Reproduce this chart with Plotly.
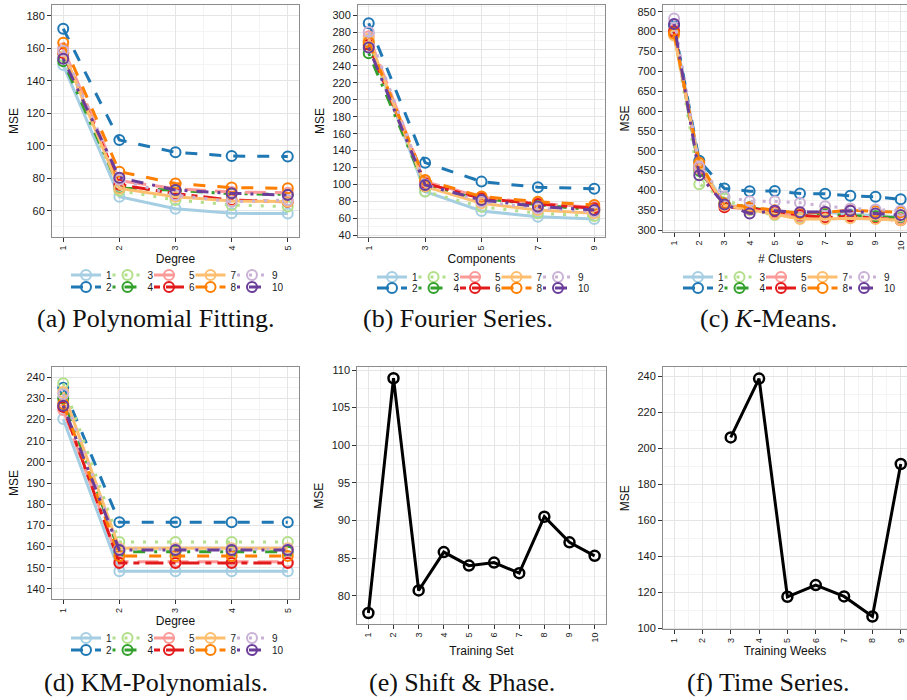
import plotly.graph_objects as go

# ---------------- data ----------------
series_labels = ["1", "2", "3", "4", "5", "6", "7", "8", "9", "10"]

degree = [1, 2, 3, 4, 5]
poly_mse = [
    [149.6, 68.6, 61.2, 58.4, 58.2],
    [172.0, 103.5, 95.9, 93.6, 93.4],
    [155.0, 72.3, 66.6, 63.5, 62.5],
    [152.0, 74.0, 72.5, 70.5, 70.0],
    [160.0, 78.5, 73.5, 71.5, 71.0],
    [157.0, 76.0, 70.5, 66.5, 65.5],
    [158.0, 73.7, 68.6, 66.0, 65.7],
    [163.4, 84.0, 76.8, 74.2, 73.8],
    [158.5, 79.0, 69.6, 65.5, 66.6],
    [153.5, 80.3, 72.7, 70.7, 69.6],
]

components = [1, 3, 5, 7, 9]
fourier_mse = [
    [270.0, 91.6, 68.7, 62.0, 59.3],
    [290.5, 125.8, 103.4, 96.7, 95.1],
    [268.0, 91.6, 73.8, 66.0, 62.8],
    [255.0, 97.5, 83.7, 76.0, 70.0],
    [275.0, 103.4, 85.0, 77.8, 73.0],
    [265.0, 101.4, 83.7, 77.0, 71.9],
    [272.0, 97.5, 77.8, 70.0, 66.0],
    [268.0, 105.4, 85.7, 79.7, 75.8],
    [280.0, 100.0, 80.0, 72.0, 68.0],
    [261.8, 99.4, 81.7, 74.0, 70.0],
]

clusters = [1, 2, 3, 4, 5, 6, 7, 8, 9, 10]
kmeans_mse = [
    [810, 470, 365, 355, 345, 340, 345, 340, 337, 333],
    [815, 474.7, 405, 398.3, 399, 392.4, 391.6, 386.5, 384, 378],
    [800, 416, 380, 350, 338, 330, 340, 338, 335, 335],
    [800, 450, 368, 358, 345, 335, 340, 336, 335, 330],
    [805, 455, 362, 356, 345, 335, 333, 332, 330, 328],
    [800, 460, 358, 355, 348, 338, 332, 335, 330, 325],
    [790, 465, 362, 352, 340, 328, 328, 330, 328, 325],
    [795, 470, 367, 358, 350, 343, 345, 350, 348, 345],
    [833, 460, 385, 373, 373, 369, 360.5, 354.6, 352, 349],
    [819, 438.6, 365, 342, 349, 345.4, 346, 349, 342, 338],
]

km_degree = [1, 2, 3, 4, 5]
kmpoly_mse = [
    [220.3, 148.3, 148.3, 148.3, 148.3],
    [235.0, 171.5, 171.5, 171.5, 171.5],
    [237.2, 162.2, 162.2, 162.2, 162.2],
    [230.0, 157.6, 157.6, 157.6, 157.6],
    [224.5, 152.8, 152.8, 152.8, 152.8],
    [226.0, 152.2, 152.2, 152.2, 152.2],
    [233.0, 159.2, 159.2, 159.2, 159.2],
    [227.5, 155.6, 155.6, 155.6, 155.6],
    [232.0, 158.7, 158.7, 158.7, 158.7],
    [226.6, 158.4, 158.4, 158.4, 158.4],
]

training_set = [1, 2, 3, 4, 5, 6, 7, 8, 9, 10]
shift_mse = [77.7, 108.9, 80.7, 85.8, 84.0, 84.4, 83.0, 90.5, 87.1, 85.3]

training_weeks = [3, 4, 5, 6, 7, 8, 9]
time_mse = [206.2, 238.9, 117.5, 124.0, 117.7, 106.5, 191.4]

# ---------------- style ----------------
colors = ["#A6CEE3", "#1F78B4", "#B2DF8A", "#33A02C", "#FB9A99",
          "#E31A1C", "#FDBF6F", "#FF7F00", "#CAB2D6", "#6A3D9A"]
dash_cycle = ["solid", "12px,12px", "3px,9px", "3px,9px,12px,9px",
              "21px,9px", "6px,6px,18px,6px"]

W, H = 907, 700
FONT = "Liberation Sans"


def px_x(a, b):
    return [a / W, b / W]


def px_y(top, bottom):
    return [1 - bottom / H, 1 - top / H]


fig = go.Figure()
layout = dict(
    width=W, height=H, margin=dict(l=0, r=0, t=0, b=0),
    paper_bgcolor="white", plot_bgcolor="white",
    font=dict(family=FONT),
)

# legend anchor per panel: (origin x of first entry, row1 y, row2 y) in pixels
legend_geom = {
    1: (66, 275, 287),
    2: (372, 277, 288),
    3: (678, 277, 288),
    4: (66, 638, 650),
}
ENTRY_STEP = 41.5

multi_panels = [
    (degree, poly_mse, 1),
    (components, fourier_mse, 2),
    (clusters, kmeans_mse, 3),
    (km_degree, kmpoly_mse, 4),
]

leg_count = 0
for xs, data, ax in multi_panels:
    ox, ry1, ry2 = legend_geom[ax]
    for i, ys in enumerate(data):
        leg_count += 1
        key = "legend" if leg_count == 1 else f"legend{leg_count}"
        col = i // 2
        ry = ry1 if i % 2 == 0 else ry2
        layout[key] = dict(
            orientation="h", x=(ox + col * ENTRY_STEP) / W, y=1 - ry / H,
            xanchor="left", yanchor="middle", itemwidth=30,
            font=dict(family=FONT, size=10, color="#1a1a1a"),
            bgcolor="rgba(0,0,0,0)", borderwidth=0,
        )
        fig.add_trace(go.Scatter(
            x=xs, y=ys, mode="lines+markers", name=series_labels[i],
            xaxis="x" if ax == 1 else f"x{ax}",
            yaxis="y" if ax == 1 else f"y{ax}",
            legend=key,
            line=dict(color=colors[i], width=3, dash=dash_cycle[i % 6]),
            marker=dict(symbol="circle-open", size=10, color=colors[i],
                        line=dict(width=2, color=colors[i])),
        ))

for xs, ys, ax in [(training_set, shift_mse, 5), (training_weeks, time_mse, 6)]:
    fig.add_trace(go.Scatter(
        x=xs, y=ys, mode="lines+markers", showlegend=False,
        xaxis=f"x{ax}", yaxis=f"y{ax}",
        line=dict(color="black", width=3),
        marker=dict(symbol="circle-open", size=10, color="black",
                    line=dict(width=2.5, color="black")),
    ))


def xaxis(domain, rng, tickvals, minor_tick0, minor_dtick, title, anchor, mirror=True):
    return dict(
        domain=domain, range=rng, anchor=anchor,
        tickmode="array", tickvals=tickvals, ticktext=[str(v) for v in tickvals],
        tickangle=-90, ticks="outside", ticklen=4, tickcolor="#333",
        tickfont=dict(family=FONT, size=9, color="#1a1a1a"),
        showgrid=True, gridcolor="#E5E5E5", gridwidth=1,
        minor=dict(tick0=minor_tick0, dtick=minor_dtick, showgrid=True,
                   gridcolor="#F4F4F4", gridwidth=1, ticks=""),
        zeroline=False, showline=True, linecolor="#8C8C8C", linewidth=1,
        mirror=mirror,
        title=dict(text=title, font=dict(family=FONT, size=12, color="#111"), standoff=4),
        automargin=False,
    )


def yaxis(domain, rng, dtick, tick0, minor_dtick, anchor, fsize=11, mirror=True):
    return dict(
        domain=domain, range=rng, anchor=anchor,
        tickmode="linear", tick0=tick0, dtick=dtick,
        ticks="outside", ticklen=4, tickcolor="#333",
        tickfont=dict(family=FONT, size=fsize, color="#1a1a1a"),
        showgrid=True, gridcolor="#E5E5E5", gridwidth=1,
        minor=dict(dtick=minor_dtick, showgrid=True, gridcolor="#F4F4F4",
                   gridwidth=1, ticks=""),
        zeroline=False, showline=True, linecolor="#8C8C8C", linewidth=1,
        mirror=mirror,
        title=dict(text="MSE", font=dict(family=FONT, size=12, color="#111"), standoff=5),
        automargin=False,
    )


# panel (a)
layout["xaxis"] = xaxis(px_x(52, 299), [0.8, 5.2], degree, 0.5, 0.5, "Degree", "y")
layout["yaxis"] = yaxis(px_y(5, 237), [43.8, 186.6], 20, 0, 10, "x")
# panel (b)
layout["xaxis2"] = xaxis(px_x(358, 605), [0.62, 9.38], components, 0, 1, "Components", "y2")
layout["yaxis2"] = yaxis(px_y(5, 237), [38, 312], 20, 0, 10, "x2")
# panel (c)
layout["xaxis3"] = xaxis(px_x(663, 907), [0.56, 10.25], clusters, 0.5, 0.5, "# Clusters", "y3")
layout["yaxis3"] = yaxis(px_y(5, 232), [295.5, 867], 50, 0, 25, "x3", mirror=False)
# panel (d)
layout["xaxis4"] = xaxis(px_x(52, 299), [0.8, 5.2], km_degree, 0.5, 0.5, "Degree", "y4")
layout["yaxis4"] = yaxis(px_y(366.7, 599.3), [135.1, 245], 10, 0, 5, "x4")
# panel (e)
layout["xaxis5"] = xaxis(px_x(357.3, 605.7), [0.56, 10.44], training_set, 0.5, 0.5, "Training Set", "y5")
layout["yaxis5"] = yaxis(px_y(367.3, 624), [76.24, 110.36], 5, 0, 2.5, "x5")
# panel (f)
layout["xaxis6"] = xaxis(px_x(663, 907), [0.61, 9.22], list(range(1, 10)), 0.5, 0.5, "Training Weeks", "y6")
layout["yaxis6"] = yaxis(px_y(367.3, 629.3), [99.4, 245.2], 20, 0, 10, "x6", mirror=False)

captions = [
    ("(a) Polynomial Fitting.", 156, 318),
    ("(b) Fourier Series.", 458, 318),
    ("(c) <i>K</i>-Means.", 768, 318),
    ("(d) KM-Polynomials.", 156, 682),
    ("(e) Shift &amp; Phase.", 462, 682),
    ("(f) Time Series.", 768, 682),
]
layout["annotations"] = [
    dict(text=t, x=cx / W, y=1 - cy / H, xref="paper", yref="paper",
         showarrow=False, xanchor="center", yanchor="middle",
         font=dict(family="Liberation Serif", size=26, color="#111"))
    for t, cx, cy in captions
]

fig.update_layout(layout)
fig.write_html("out.html")
